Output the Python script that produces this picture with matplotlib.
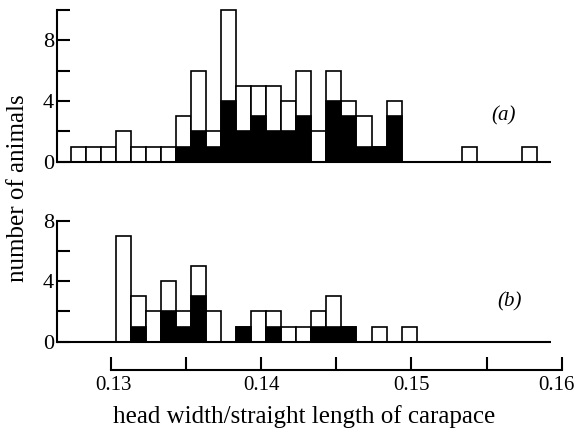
import matplotlib
matplotlib.use("Agg")
import matplotlib.pyplot as plt
import matplotlib.transforms as mtransforms
import numpy as np

# ---- data -------------------------------------------------------------
# histogram bins of 0.001 starting at bin_start (bin index 0..30)
bin_start = 0.12735
bin_width = 0.001

# panel (a): total counts and black (shaded) counts per bin
totals_a = [1, 1, 1, 2, 1, 1, 1, 3, 6, 2, 10, 5, 5, 5, 4, 6, 2, 6, 4, 3, 1, 4,
            0, 0, 0, 0, 1, 0, 0, 0, 1]
black_a = [0, 0, 0, 0, 0, 0, 0, 1, 2, 1, 4, 2, 3, 2, 2, 3, 0, 4, 3, 1, 1, 3,
           0, 0, 0, 0, 0, 0, 0, 0, 0]

# panel (b)
totals_b = [0, 0, 0, 7, 3, 2, 4, 2, 5, 2, 0, 1, 2, 2, 1, 1, 2, 3, 1, 0, 1, 0, 1]
black_b = [0, 0, 0, 0, 1, 0, 2, 1, 3, 0, 0, 1, 0, 1, 0, 0, 1, 1, 1, 0, 0, 0, 0]

x_ticks = [0.13, 0.14, 0.15, 0.16]
x_tick_labels = ["0.13", "0.14", "0.15", "0.16"]
x_minor = [0.135, 0.145, 0.155]
xlabel = "head width/straight length of carapace"
ylabel = "number of animals"
panel_labels = ["(a)", "(b)"]

# ---- layout -------------------------------------------------------------
plt.rcParams["font.family"] = ["Liberation Serif", "DejaVu Serif"]
W, H = 579, 432
fig = plt.figure(figsize=(W / 100, H / 100), dpi=100)


def fx(px):
    return px / W


def fy(py):
    return 1 - py / H


PX_PER_UNIT = 15033.0
X0_PX = 110.7  # pixel of 0.13
left_px, right_px = 56.7, 570
xmin = 0.13 - (X0_PX - left_px) / PX_PER_UNIT
xmax = 0.13 + (right_px - X0_PX) / PX_PER_UNIT
base_end = 0.1593

axA = fig.add_axes([fx(left_px), fy(161.7), fx(right_px) - fx(left_px), fy(10) - fy(161.7)])
axB = fig.add_axes([fx(left_px), fy(341.7), fx(right_px) - fx(left_px), fy(220.7) - fy(341.7)])

LW_SP = 1.5
LW_BAR = 1.2
TICK_LEN = 9.4


def draw(ax, totals, blacks, ymax):
    lefts = bin_start + bin_width * np.arange(len(totals))
    tot = np.array(totals, dtype=float)
    blk = np.array(blacks, dtype=float)
    m = tot > 0
    ax.bar(lefts[m], tot[m], width=bin_width, align="edge", facecolor="white",
           edgecolor="black", linewidth=LW_BAR, clip_on=False, zorder=2)
    mb = blk > 0
    ax.bar(lefts[mb], blk[mb], width=bin_width, align="edge", facecolor="black",
           edgecolor="black", linewidth=LW_BAR, clip_on=False, zorder=3)
    ax.hlines(0, xmin, base_end, color="black", linewidth=LW_SP, zorder=4, clip_on=False)
    ax.set_xlim(xmin, xmax)
    ax.set_ylim(0, ymax)
    for s in ["top", "right"]:
        ax.spines[s].set_visible(False)
    ax.spines["left"].set_linewidth(LW_SP)
    ax.spines["left"].set_zorder(5)
    ax.set_yticks([0, 4, 8])
    ax.set_yticklabels(["0", "4", "8"])
    ax.set_yticks([t for t in range(2, ymax + 1, 4)], minor=True)
    ax.tick_params(axis="y", which="both", direction="in", length=TICK_LEN,
                   width=LW_SP, pad=2, labelsize=16)
    ax.patch.set_visible(False)


draw(axA, totals_a, black_a, 10)
draw(axB, totals_b, black_b, 8)

axA.spines["bottom"].set_visible(False)
axA.set_xticks([])

axB.spines["bottom"].set_position(("outward", (370 - 341.7) * 0.72))
axB.spines["bottom"].set_bounds(0.13, 0.16)
axB.spines["bottom"].set_linewidth(LW_SP)
axB.set_xticks(x_ticks)
axB.set_xticklabels(x_tick_labels)
axB.set_xticks(x_minor, minor=True)
axB.tick_params(axis="x", which="both", direction="in", length=TICK_LEN,
                width=LW_SP, pad=4, labelsize=15)
# nudge first label right and last label left, as in the reference
labs = axB.get_xticklabels()
labs[0].set_transform(labs[0].get_transform() +
                      mtransforms.ScaledTranslation(3 / 100, 0, fig.dpi_scale_trans))
labs[-1].set_transform(labs[-1].get_transform() +
                       mtransforms.ScaledTranslation(-5 / 100, 0, fig.dpi_scale_trans))

axA.text(0.15616, 3.0, panel_labels[0], style="italic", fontsize=15,
         ha="center", va="center")
axB.text(0.15656, 2.64, panel_labels[1], style="italic", fontsize=15,
         ha="center", va="center")

fig.text(fx(304), fy(417), xlabel, fontsize=18, ha="center", va="center")
fig.text(fx(18), fy(188), ylabel, fontsize=18, ha="center", va="center", rotation=90)

fig.savefig("out.png", dpi=100)
